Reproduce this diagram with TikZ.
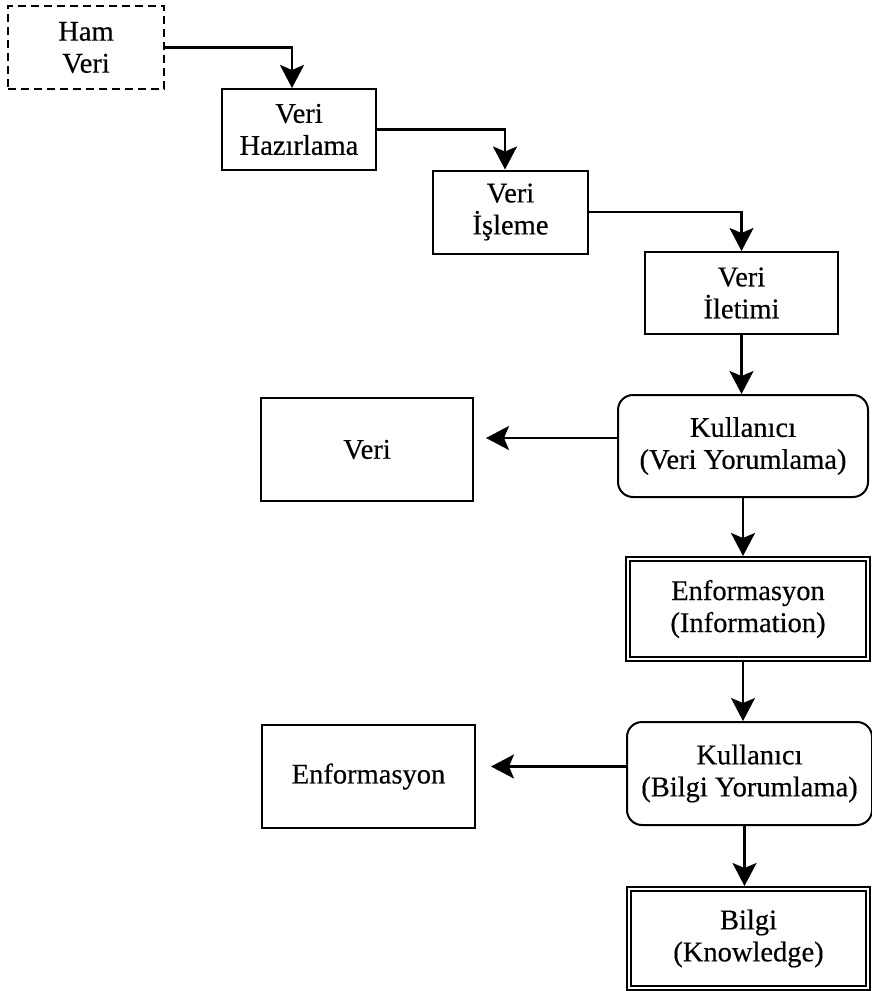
\documentclass[tikz,border=0pt]{standalone}
\usepackage{fontspec}
\setmainfont{Liberation Serif}
\newfontfamily\boxfont{Liberation Serif}[FakeBold=0.4]
\usetikzlibrary{arrows.meta}
\begin{document}
\begin{tikzpicture}[x=1pt,y=-1pt,
  box/.style={draw, line width=2pt, rectangle, inner sep=0pt, align=center,
    font=\boxfont\fontsize{28.5}{32}\selectfont},
  dashbox/.style={box, dash pattern=on 8pt off 5pt},
  userbox/.style={box, rounded corners=15pt},
  arr/.style={line width=2.3pt, -{Stealth[length=23pt,width=24pt,inset=5pt]}}]
\useasboundingbox (0,0) rectangle (872,991);

% processing chain
\node[dashbox, minimum width=156pt, minimum height=83pt] (ham) at (86,47.5) {Ham\\Veri};
\node[box, minimum width=154pt, minimum height=81pt] (hazir) at (299,129.5) {Veri\\Hazırlama};
\node[box, minimum width=155pt, minimum height=83pt] (isleme) at (510.5,212) {Veri\\İşleme};
\node[box, minimum width=193pt, minimum height=82pt] (iletim) at (741.5,293) {Veri\\İletimi};

% user interpretation and outcomes
\node[userbox, minimum width=250pt, minimum height=102pt] (kul1) at (743,446) {Kullanıcı\\(Veri Yorumlama)};
\node[box, minimum width=212pt, minimum height=103pt] (veri) at (367,449.5) {Veri};
\node[box, minimum width=244pt, minimum height=104pt] (enf1) at (748,609) {Enformasyon\\(Information)};
\node[userbox, minimum width=245pt, minimum height=103pt] (kul2) at (749.5,773.5) {Kullanıcı\\(Bilgi Yorumlama)};
\node[box, minimum width=213pt, minimum height=103pt] (enf2) at (368.5,776.5) {Enformasyon};
\node[box, minimum width=243pt, minimum height=103pt] (bilgi) at (748.5,938.5) {Bilgi\\(Knowledge)};

% inner frames of the double-bordered boxes
\foreach \n in {enf1,bilgi}
  \draw[line width=1.2pt] ([shift={(5pt,-5pt)}]\n.north west) rectangle ([shift={(-5pt,5pt)}]\n.south east);

% start points of the side branches
\coordinate (k1w) at ([yshift=8pt]kul1.west);
\coordinate (k2w) at ([yshift=7pt]kul2.west);

% connectors
\draw[arr] (ham.east) -| ([xshift=-7pt]hazir.north);
\draw[arr] (hazir.east) -| ([xshift=-5.5pt]isleme.north);
\draw[arr] (isleme.east) -| (iletim.north);
\draw[arr] (iletim.south) -- (iletim.south |- kul1.north);
\draw[arr, shorten >=12pt] (k1w) -- (veri.east |- k1w);
\draw[arr] (kul1.south) -- (kul1.south |- enf1.north);
\draw[arr] ([xshift=-5pt]enf1.south) -- ([xshift=-5pt]enf1.south |- kul2.north);
\draw[arr, shorten >=15pt] (k2w) -- (enf2.east |- k2w);
\draw[arr] ([xshift=-5pt]kul2.south) -- ([xshift=-5pt]kul2.south |- bilgi.north);
\end{tikzpicture}
\end{document}
